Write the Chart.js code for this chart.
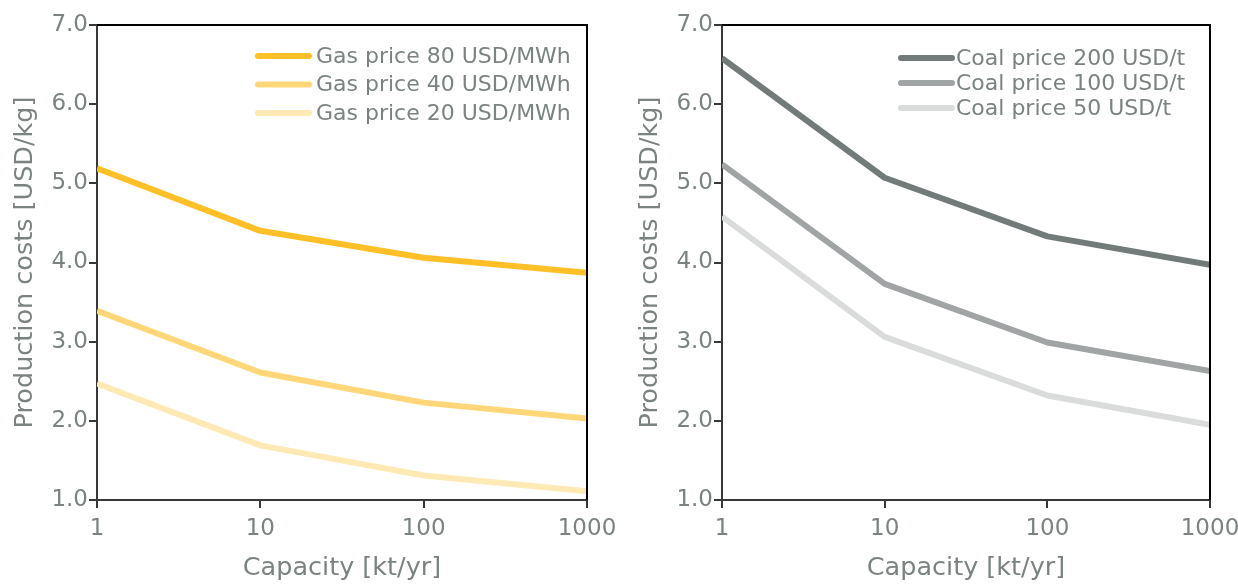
<!DOCTYPE html>
<html>
<head>
<meta charset="utf-8">
<script src="https://cdn.jsdelivr.net/npm/chart.js@4/dist/chart.umd.min.js"></script>
<style>
  html, body { margin: 0; padding: 0; background: #ffffff; }
  #wrap { position: relative; width: 1238px; height: 585px; }
  .panel { position: absolute; top: 0; width: 619px; height: 585px; }
  #p1 { left: 0; }
  #p2 { left: 619px; }
</style>
</head>
<body>
<div id="wrap">
  <div class="panel" id="p1"><canvas id="c1" width="619" height="585"></canvas></div>
  <div class="panel" id="p2"><canvas id="c2" width="619" height="585"></canvas></div>
</div>
<script>
// Plant capacity (kt/yr) and its axis labels
const capacities = [1, 10, 100, 1000];
const xTickLabels = ['1', '10', '100', '1000'];
const yTickValues = [1, 2, 3, 4, 5, 6, 7];

// Gas-based production costs (USD/kg)
const gasLabels = ['Gas price 80 USD/MWh', 'Gas price 40 USD/MWh', 'Gas price 20 USD/MWh'];
const gas80 = [5.19, 4.40, 4.06, 3.87];
const gas40 = [3.39, 2.61, 2.23, 2.03];
const gas20 = [2.47, 1.69, 1.31, 1.11];

// Coal-based production costs (USD/kg)
const coalLabels = ['Coal price 200 USD/t', 'Coal price 100 USD/t', 'Coal price 50 USD/t'];
const coal200 = [6.58, 5.07, 4.33, 3.97];
const coal100 = [5.24, 3.73, 2.99, 2.63];
const coal50 = [4.58, 3.06, 2.32, 1.95];

const FONT = '"DejaVu Sans", sans-serif';
const TEXT = '#7a8381';
const AXIS = '#383838';

// Black top and right edges of the plot frame
const frameEdges = {
  id: 'frameEdges',
  afterDatasetsDraw(chart) {
    const { ctx, chartArea: a } = chart;
    ctx.save();
    ctx.strokeStyle = '#000000';
    ctx.lineWidth = 2;
    ctx.beginPath();
    ctx.moveTo(a.left, a.top);
    ctx.lineTo(a.right, a.top);
    ctx.lineTo(a.right, a.bottom);
    ctx.stroke();
    ctx.restore();
  }
};

// Stacked legend inside the plot area, built from the datasets
const insideLegend = {
  id: 'insideLegend',
  afterDraw(chart, args, opts) {
    const ctx = chart.ctx;
    ctx.save();
    ctx.font = opts.fontSize + 'px ' + FONT;
    ctx.textBaseline = 'middle';
    chart.data.datasets.forEach((ds, i) => {
      const y = opts.top + i * opts.gap;
      ctx.strokeStyle = ds.borderColor;
      ctx.lineWidth = 6;
      ctx.lineCap = 'round';
      ctx.beginPath();
      ctx.moveTo(opts.left, y);
      ctx.lineTo(opts.left + opts.len, y);
      ctx.stroke();
      ctx.fillStyle = TEXT;
      ctx.fillText(ds.label, opts.left + opts.len + opts.textGap, y + 1);
    });
    ctx.restore();
  }
};

function series(label, data, color) {
  return {
    label, data: data.map((v, i) => ({ x: capacities[i], y: v })),
    borderColor: color, borderWidth: 6, pointRadius: 0, tension: 0,
    borderJoinStyle: 'round', fill: false
  };
}

function makeChart(id, datasets, yWidth, padRight, yTitlePad, legendOpts) {
  return new Chart(document.getElementById(id), {
    type: 'line',
    data: { datasets },
    plugins: [frameEdges, insideLegend],
    options: {
      responsive: false,
      animation: false,
      layout: { padding: { top: 25, right: padRight, left: 0, bottom: 0 } },
      plugins: {
        legend: { display: false },
        tooltip: { enabled: false },
        insideLegend: legendOpts
      },
      scales: {
        x: {
          type: 'logarithmic',
          min: 1, max: 1000,
          afterBuildTicks(scale) { scale.ticks = capacities.map(v => ({ value: v })); },
          afterFit(scale) {
            scale.height = 85;
            // the end labels may overhang the frame without shrinking the plot
            scale.paddingLeft = 0;
            scale.paddingRight = 0;
          },
          ticks: {
            autoSkip: false, maxRotation: 0, padding: 7,
            color: TEXT, font: { family: FONT, size: 23 },
            callback(value) { const i = capacities.indexOf(value); return i >= 0 ? xTickLabels[i] : ''; }
          },
          grid: { drawOnChartArea: false, drawTicks: true, tickLength: 8, color: AXIS, lineWidth: 2 },
          border: { display: true, color: AXIS, width: 2 },
          title: { display: true, text: 'Capacity [kt/yr]', color: TEXT, font: { family: FONT, size: 25.5 }, padding: { top: 4, bottom: 1 } }
        },
        y: {
          type: 'linear',
          min: 1, max: 7,
          afterBuildTicks(scale) { scale.ticks = yTickValues.map(v => ({ value: v })); },
          afterFit(scale) { scale.width = yWidth; scale.paddingTop = 0; scale.paddingBottom = 0; },
          ticks: {
            padding: 1,
            color: TEXT, font: { family: FONT, size: 23 },
            callback(value) { return value.toFixed(1); }
          },
          grid: { drawOnChartArea: false, drawTicks: true, tickLength: 8, color: AXIS, lineWidth: 2 },
          border: { display: true, color: AXIS, width: 2 },
          title: { display: true, text: 'Production costs [USD/kg]', color: TEXT, font: { family: FONT, size: 25.5 }, padding: { top: yTitlePad, bottom: 0 } }
        }
      }
    }
  });
}

makeChart('c1', [
  series(gasLabels[0], gas80, '#ffbf27'),
  series(gasLabels[1], gas40, '#ffd778'),
  series(gasLabels[2], gas20, '#ffe9b4')
], 97, 32, 10, { left: 258, top: 56, gap: 28.5, len: 51, textGap: 7, fontSize: 22 });

makeChart('c2', [
  series(coalLabels[0], coal200, '#737b7a'),
  series(coalLabels[1], coal100, '#a0a4a4'),
  series(coalLabels[2], coal50, '#dadcdc')
], 103, 28, 16, { left: 282, top: 58, gap: 25, len: 51, textGap: 4, fontSize: 22 });
</script>
</body>
</html>
